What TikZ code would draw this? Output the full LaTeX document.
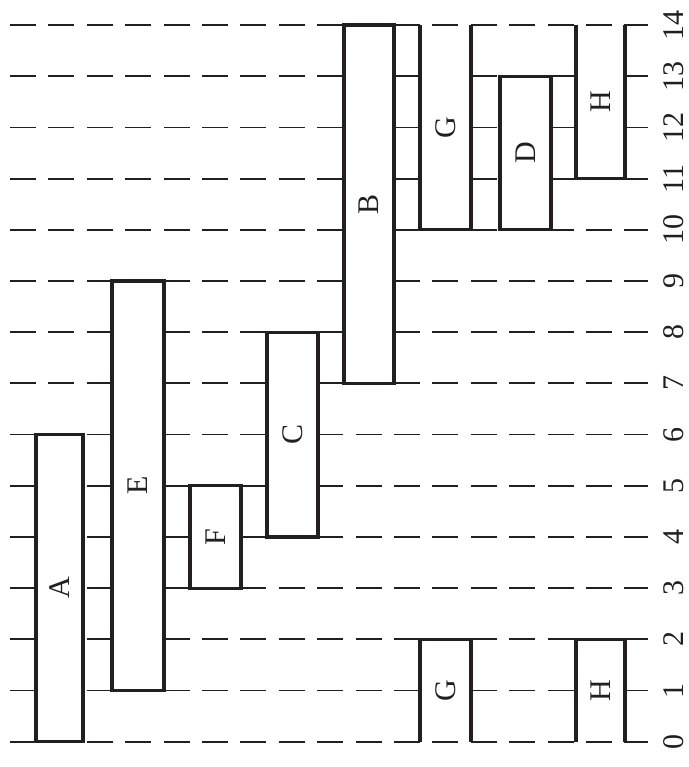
\documentclass[tikz,border=0pt]{standalone}
\usepackage{fontspec}
\setmainfont{Liberation Serif}
\definecolor{ink}{HTML}{231F20}
\begin{document}
\begin{tikzpicture}[x=1pt,y=-1pt,
  dline/.style={line width=1.8pt, draw=ink, dash pattern=on 26pt off 12.4pt},
  boxline/.style={line width=3.2pt, draw=ink, line join=miter},
  lbl/.style={font=\fontsize{30}{30}\selectfont, rotate=90, text=ink, inner sep=0pt}]
\useasboundingbox (0,0) rectangle (688,767);
% grid lines and scale labels
\foreach \k in {0,...,14} {
  \coordinate (L\k) at (10,{741.7-51.19*\k});
  \coordinate (R\k) at (648,{741.7-51.19*\k});
  \draw[dline] (L\k) -- (R\k);
  \node[lbl] (n\k) at (674,{741.7-51.19*\k}) {\k};
}
% closed boxes
\foreach \nm/\tx/\xa/\xb/\ka/\kb in {A/A/36/83/0/6, E/E/112/164/1/9, F/F/190/241/3/5, C/C/267/318/4/8, B/B/344/394/7/14, D/D/500/551/10/13} {
  \path[fill=white, boxline] (\xa,{741.7-51.19*\ka}) rectangle (\xb,{741.7-51.19*\kb});
  \node[lbl] (\nm) at ({(\xa+\xb)/2},{741.7-51.19*(\ka+\kb)/2}) {\tx};
}
% open boxes (wrapping intervals): open edge at \ko, closed edge at \kc
\foreach \nm/\tx/\xa/\xb/\ko/\kc in {G1/G/420/471/14/10, H1/H/576/625/14/11, G2/G/420/471/0/2, H2/H/576/625/0/2} {
  \fill[white] (\xa,{741.7-51.19*\ko}) rectangle (\xb,{741.7-51.19*\kc});
  \draw[boxline] (\xa,{741.7-51.19*\ko}) -- (\xa,{741.7-51.19*\kc}) -- (\xb,{741.7-51.19*\kc}) -- (\xb,{741.7-51.19*\ko});
  \begin{scope}
    \clip ({\xa+1.6},{741.7-51.19*\ko-3}) rectangle ({\xb-1.6},{741.7-51.19*\ko+3});
    \draw[dline] (L\ko) -- (R\ko);
  \end{scope}
  \node[lbl] (\nm) at ({(\xa+\xb)/2},{741.7-51.19*(\ko+\kc)/2}) {\tx};
}
\end{tikzpicture}
\end{document}
